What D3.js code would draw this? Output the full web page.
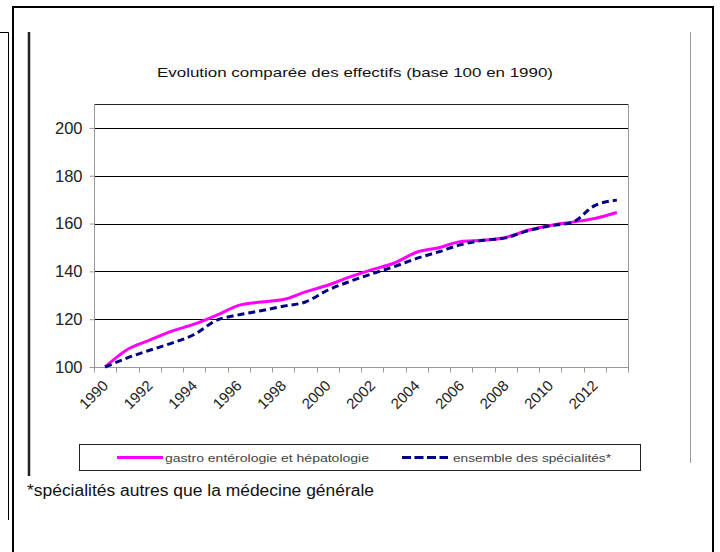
<!DOCTYPE html>
<html><head><meta charset="utf-8">
<script src="https://cdn.jsdelivr.net/npm/d3@7"></script>
<style>body{margin:0;background:#fff}svg{display:block}</style>
</head><body><svg id="c" width="720" height="552"></svg>
<script>
const years = [1990,1991,1992,1993,1994,1995,1996,1997,1998,1999,2000,2001,2002,2003,2004,2005,2006,2007,2008,2009,2010,2011,2012,2013];
const gastro = [100,107.3,111.2,115.0,117.9,121.6,125.8,127.2,128.2,131.4,134.2,137.7,140.7,143.5,148.0,149.9,152.5,153.0,154.2,157.2,159.2,160.6,162.1,164.6];
const ensemble = [100,103.8,107.0,110.0,113.6,119.5,121.8,123.5,125.4,127.2,132.1,135.8,139.0,142.0,145.4,148.2,151.2,153.0,154.0,157.0,159.0,160.5,167.5,169.8];
const yTicks = [100,120,140,160,180,200];
const xLabels = [1990,1992,1994,1996,1998,2000,2002,2004,2006,2008,2010,2012];
const seriesNames = ["gastro entérologie et hépatologie","ensemble des spécialités*"];
const title = "Evolution comparée des effectifs (base 100 en 1990)";
const footnote = "*spécialités autres que la médecine générale";

const svg = d3.select("#c");
const L = 94, R = 628, T = 104, B = 367;
const x = d3.scaleBand().domain(years).range([L, R]);
const cx = d => x(d) + x.bandwidth()/2;
const y = d3.scaleLinear().domain([100, 210]).range([B, T]);
const font = "'Liberation Sans', Arial, sans-serif";

// page frame
const fr = svg.append("g").attr("fill","none");
fr.append("path").attr("d","M13,552V7H713V552").attr("stroke","#000").attr("stroke-width",2);
fr.append("path").attr("d","M0,32.5H8.5V520").attr("stroke","#000").attr("stroke-width",1);
fr.append("line").attr("x1",29).attr("x2",29).attr("y1",32).attr("y2",476).attr("stroke","#222").attr("stroke-width",2.5);
fr.append("line").attr("x1",690.5).attr("x2",690.5).attr("y1",32).attr("y2",463).attr("stroke","#999").attr("stroke-width",1);

// title
svg.append("text").attr("x",355).attr("y",77).attr("text-anchor","middle")
  .attr("font-family",font).attr("font-size",13.5).attr("fill","#111")
  .attr("textLength",396).attr("lengthAdjust","spacingAndGlyphs").text(title);

// gridlines
const grid = svg.append("g");
grid.selectAll("line").data(yTicks.slice(1)).join("line")
  .attr("x1",L).attr("x2",R).attr("y1",d=>Math.round(y(d))+0.5).attr("y2",d=>Math.round(y(d))+0.5)
  .attr("stroke","#000").attr("stroke-width",1);
grid.append("line").attr("x1",L).attr("x2",R).attr("y1",T+0.5).attr("y2",T+0.5).attr("stroke","#222");
grid.append("line").attr("x1",R+0.5).attr("x2",R+0.5).attr("y1",T).attr("y2",B).attr("stroke","#999");

// y axis
const ya = svg.append("g").attr("transform",`translate(${L+0.5},0)`)
  .call(d3.axisLeft(y).tickValues(yTicks).tickSize(5).tickPadding(7).tickFormat(d3.format("d")));
ya.select(".domain").attr("stroke","#999").attr("d",`M0,${T}V${B}`);
ya.selectAll(".tick line").attr("stroke","#999");
ya.selectAll("text").attr("font-family",font).attr("font-size",16.5).attr("fill","#222");

// x axis
const xa = svg.append("g").attr("transform",`translate(0,${B+0.5})`);
xa.append("line").attr("x1",L).attr("x2",R+1).attr("stroke","#999");
xa.selectAll("line.t").data(years.concat(["end"])).join("line").attr("class","t")
  .attr("x1",d=>d==="end"?R+0.5:Math.round(x(d))+0.5).attr("x2",d=>d==="end"?R+0.5:Math.round(x(d))+0.5)
  .attr("y1",0).attr("y2",5).attr("stroke","#999");
xa.selectAll("text").data(xLabels).join("text")
  .attr("transform",d=>`translate(${cx(d)+4},19) rotate(-45)`)
  .attr("text-anchor","end").attr("font-family",font).attr("font-size",15).attr("fill","#222")
  .text(d=>d);

// lines
const line = d3.line().x((d,i)=>cx(years[i])).y(d=>y(d)).curve(d3.curveMonotoneX);
svg.append("path").datum(gastro).attr("d",line).attr("fill","none")
  .attr("stroke","#FF00FF").attr("stroke-width",3);
svg.append("path").datum(ensemble).attr("d",line).attr("fill","none")
  .attr("stroke","#000080").attr("stroke-width",3).attr("stroke-dasharray","7,4");

// legend
const lg = svg.append("g");
lg.append("rect").attr("x",79.5).attr("y",444.5).attr("width",561).attr("height",26)
  .attr("fill","#fff").attr("stroke","#222");
lg.append("line").attr("x1",117).attr("x2",163).attr("y1",457.5).attr("y2",457.5).attr("stroke","#FF00FF").attr("stroke-width",3);
lg.append("text").attr("x",165).attr("y",461.5).attr("font-family",font).attr("font-size",11).attr("fill","#444")
  .attr("textLength",204).attr("lengthAdjust","spacingAndGlyphs").text(seriesNames[0]);
lg.append("line").attr("x1",402).attr("x2",448).attr("y1",457.5).attr("y2",457.5).attr("stroke","#000080").attr("stroke-width",3).attr("stroke-dasharray","9,3.5");
lg.append("text").attr("x",453).attr("y",461.5).attr("font-family",font).attr("font-size",11).attr("fill","#444")
  .attr("textLength",158).attr("lengthAdjust","spacingAndGlyphs").text(seriesNames[1]);

// footnote
svg.append("text").attr("x",27).attr("y",496).attr("font-family",font).attr("font-size",16).attr("fill","#111")
  .attr("textLength",347).attr("lengthAdjust","spacingAndGlyphs").text(footnote);
</script></body></html>
